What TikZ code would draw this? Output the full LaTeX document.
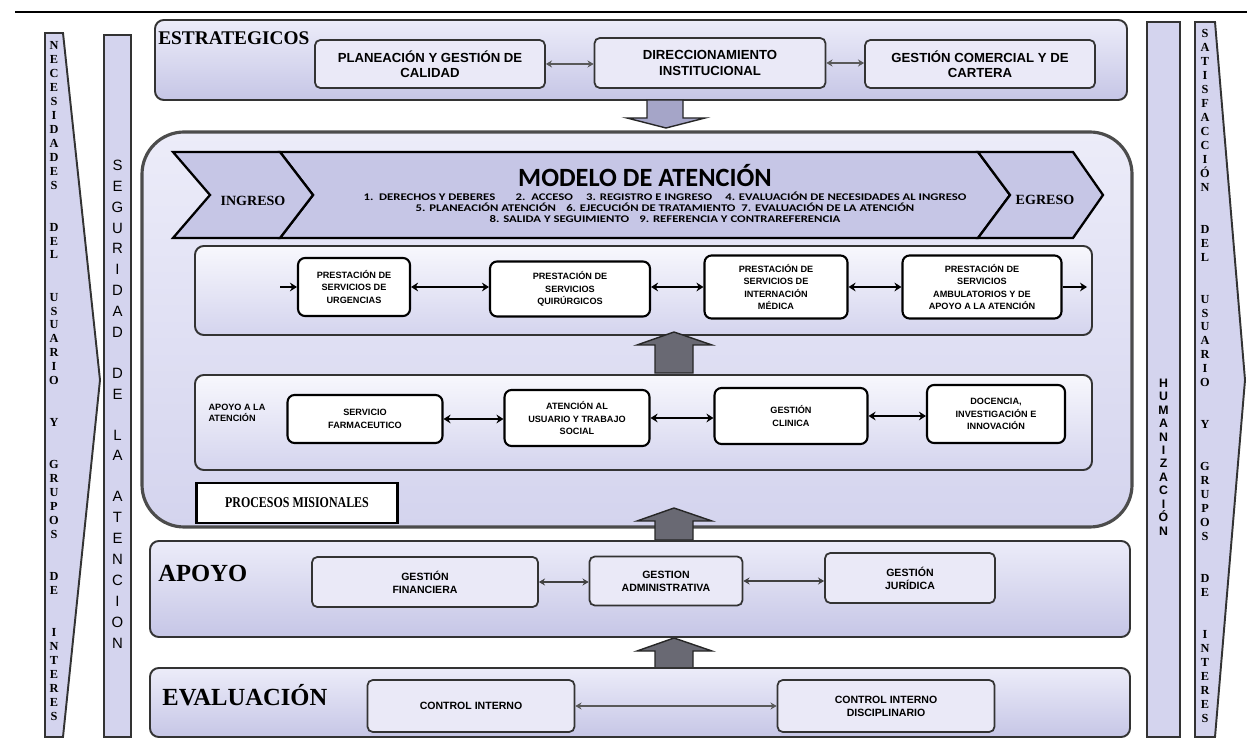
\documentclass[tikz,border=0pt]{standalone}
\usepackage{fontspec}
\setmainfont{Liberation Serif}
\setsansfont{Liberation Sans}
\newfontfamily\calfont{Carlito}
\newfontfamily\calwide[FakeStretch=1.25]{Carlito}
\newfontfamily\condserif[FakeStretch=0.8]{Liberation Serif}
\usetikzlibrary{arrows.meta,positioning}
\definecolor{lavband}{RGB}{212,212,238}
\definecolor{lavlight}{RGB}{236,236,249}
\definecolor{lavdeep}{RGB}{198,198,230}
\definecolor{lavbox}{RGB}{234,233,247}
\definecolor{arrowgray}{RGB}{105,105,115}
\definecolor{arrowlav}{RGB}{165,165,200}

\begin{document}
\begin{tikzpicture}[x=0.02cm,y=-0.02cm,
    band/.style={draw=black!80, line width=1.1pt, rounded corners=5pt,
        top color=lavlight, bottom color=lavdeep},
    sidebar/.style={draw=black!80, line width=1.1pt, fill=lavband},
    chevron/.style={draw=black, line width=1.3pt, fill=lavdeep},
    stratbox/.style={draw=black!80, line width=1pt, rounded corners=3pt, fill=lavbox,
        align=center, inner sep=1pt, font=\sffamily\bfseries\fontsize{7.5}{8.8}\selectfont},
    supbox/.style={stratbox, font=\sffamily\bfseries\fontsize{6}{7.5}\selectfont},
    procbox/.style={draw=black, line width=1.2pt, rounded corners=4pt, fill=white,
        align=center, inner sep=1pt, font=\sffamily\bfseries\fontsize{5.2}{7}\selectfont},
    bandlabel/.style={anchor=west, inner sep=0pt, font=\bfseries\fontsize{14}{14}\selectfont},
    letters/.style={align=center, inner sep=0pt, font=\bfseries\fontsize{7}{7.94}\selectfont},
    link/.style={{Stealth[length=4pt,width=5pt]}-{Stealth[length=4pt,width=5pt]}, line width=1.4pt},
    onelink/.style={-{Stealth[length=4pt,width=5pt]}, line width=1.4pt},
    thinlink/.style={{Stealth[length=3.5pt,width=4pt]}-{Stealth[length=3.5pt,width=4pt]}, line width=1pt, black!65},
    blockarrow/.style={draw=black!85, line width=0.8pt, fill=arrowgray}]

    \useasboundingbox (0,0) rectangle (1247,742);
    \draw[line width=1.4pt] (15,12) -- (1247,12);

    % barras laterales
    \filldraw[sidebar] (45,33) -- (63,33) -- (100,380) -- (63,737) -- (45,737) -- cycle;
    \node[letters] (necesidades) at (54,381)
        {N\\E\\C\\E\\S\\I\\D\\A\\D\\E\\S\\[16pt]D\\E\\L\\[16pt]U\\S\\U\\A\\R\\I\\O\\[16pt]Y\\[16pt]G\\R\\U\\P\\O\\S\\[16pt]D\\E\\[16pt]I\\N\\T\\E\\R\\E\\S};
    \filldraw[sidebar] (104,35) rectangle (131,737);
    \node[letters, font=\sffamily\fontsize{8.5}{11.9}\selectfont] (seguridad) at (117.5,404)
        {S\\E\\G\\U\\R\\I\\D\\A\\D\\[11.3pt]D\\E\\[11.3pt]L\\A\\[11.3pt]A\\T\\E\\N\\C\\I\\O\\N};
    \filldraw[sidebar] (1147,22) rectangle (1180,737);
    \node[letters, font=\sffamily\bfseries\fontsize{7}{7.65}\selectfont] (humanizacion) at (1163.5,457)
        {H\\U\\M\\A\\N\\I\\Z\\A\\C\\I\\Ó\\N};
    \filldraw[sidebar] (1195,22) -- (1215,22) -- (1245,380) -- (1215,737) -- (1195,737) -- cycle;
    \node[letters] (satisfaccion) at (1205,376)
        {S\\A\\T\\I\\S\\F\\A\\C\\C\\I\\Ó\\N\\[16pt]D\\E\\L\\[16pt]U\\S\\U\\A\\R\\I\\O\\[16pt]Y\\[16pt]G\\R\\U\\P\\O\\S\\[16pt]D\\E\\[16pt]I\\N\\T\\E\\R\\E\\S};

    % estrategicos
    \filldraw[band] (155,20) rectangle (1127,100);
    \node[anchor=west, inner sep=0pt, font=\bfseries\fontsize{11}{11}\selectfont] (estrategicos) at (158,38) {ESTRATEGICOS};
    \node[stratbox, minimum width=4.6cm, minimum height=0.96cm] (planeacion) at (430,64) {PLANEACIÓN Y GESTIÓN DE\\CALIDAD};
    \node[stratbox, minimum width=4.62cm, minimum height=1cm] (direccionamiento) at (710,63) {DIRECCIONAMIENTO\\INSTITUCIONAL};
    \node[stratbox, minimum width=4.6cm, minimum height=0.96cm] (comercial) at (980,64) {GESTIÓN COMERCIAL Y DE\\CARTERA};
    \draw[thinlink] (planeacion.east) -- (planeacion.east -| direccionamiento.west);
    \draw[thinlink] (direccionamiento.east) -- (direccionamiento.east -| comercial.west);
    \filldraw[blockarrow, fill=arrowlav] (647,100) -- (683,100) -- (683,118) -- (705,118) -- (666,128) -- (627,118) -- (647,118) -- cycle;

    % procesos misionales
    \filldraw[draw=black!70, line width=1.8pt, rounded corners=24pt, top color=lavlight, bottom color=lavband]
        (142,132) rectangle (1132,527);
    \filldraw[chevron] (280,152) -- (978,152) -- (1010,195) -- (978,238) -- (280,238) -- (313,195) -- cycle;
    \filldraw[chevron] (173,152) -- (280,152) -- (313,195) -- (280,238) -- (173,238) -- (210,195) -- cycle;
    \filldraw[chevron] (978,152) -- (1073,152) -- (1103,195) -- (1073,238) -- (978,238) -- (1010,195) -- cycle;
    \node[font=\bfseries\fontsize{8}{8}\selectfont] (ingreso) at (253,201) {INGRESO};
    \node[font=\bfseries\fontsize{8}{8}\selectfont] (egreso) at (1045,200) {EGRESO};
    \node[font=\calfont\bfseries\fontsize{15}{15}\selectfont, inner sep=0pt] (modelo) at (645,176) {MODELO DE ATENCIÓN};
    \node[font=\calwide\bfseries\fontsize{5.8}{6.3}\selectfont, align=center, inner sep=0pt] (pasos) at (665,207)
        {1.\ \ DERECHOS Y DEBERES\qquad 2.\ \ ACCESO\quad\ 3. REGISTRO E INGRESO\quad\ 4. EVALUACIÓN DE NECESIDADES AL INGRESO\\
         5. PLANEACIÓN ATENCIÓN\quad 6. EJECUCIÓN DE TRATAMIENTO\ \ 7. EVALUACIÓN DE LA ATENCIÓN\\
         8. SALIDA Y SEGUIMIENTO\quad 9. REFERENCIA Y CONTRAREFERENCIA};

    \filldraw[band, top color=lavlight!40!white, bottom color=lavband] (195,246) rectangle (1092,335);
    \node[procbox, minimum width=2.24cm, minimum height=1.16cm] (urgencias) at (354,287) {PRESTACIÓN DE\\SERVICIOS DE\\URGENCIAS};
    \node[procbox, minimum width=3.2cm, minimum height=1.1cm] (quirurgicos) at (570,289) {PRESTACIÓN DE\\SERVICIOS\\QUIRÚRGICOS};
    \node[procbox, minimum width=2.86cm, minimum height=1.26cm] (internacion) at (776,287) {PRESTACIÓN DE\\SERVICIOS DE\\INTERNACIÓN\\MÉDICA};
    \node[procbox, minimum width=3.18cm, minimum height=1.26cm] (ambulatorios) at (982,287) {PRESTACIÓN DE\\SERVICIOS\\AMBULATORIOS Y DE\\APOYO A LA ATENCIÓN};
    \coordinate (entrada) at (280,287);
    \coordinate (salida) at (1087,287);
    \draw[onelink] (entrada) -- (urgencias.west |- entrada);
    \draw[link] (urgencias.east) -- (urgencias.east -| quirurgicos.west);
    \draw[link] (internacion.west -| quirurgicos.east) -- (internacion.west);
    \draw[link] (internacion.east) -- (internacion.east -| ambulatorios.west);
    \draw[onelink] (ambulatorios.east |- salida) -- (salida);

    \filldraw[band, top color=lavlight!40!white, bottom color=lavband] (195,375) rectangle (1092,470);
    \node[align=left, inner sep=0pt, font=\sffamily\bfseries\fontsize{5.2}{6.5}\selectfont] (apoyoatencion) at (237,413) {APOYO A LA\\ATENCIÓN};
    \node[procbox, minimum width=3.1cm, minimum height=0.96cm] (farmaceutico) at (365,419) {SERVICIO\\FARMACEUTICO};
    \node[procbox, minimum width=2.9cm, minimum height=1.12cm] (usuario) at (577,418) {ATENCIÓN AL\\USUARIO Y TRABAJO\\SOCIAL};
    \node[procbox, minimum width=3.06cm, minimum height=1.12cm] (clinica) at (791,416) {GESTIÓN\\CLINICA};
    \node[procbox, minimum width=2.76cm, minimum height=1.16cm] (docencia) at (996,414) {DOCENCIA,\\INVESTIGACIÓN E\\INNOVACIÓN};
    \draw[link] (farmaceutico.east) -- (farmaceutico.east -| usuario.west);
    \draw[link] (usuario.east) -- (usuario.east -| clinica.west);
    \draw[link] (clinica.east) -- (clinica.east -| docencia.west);

    \node[draw=black, line width=1.6pt, fill=white, minimum width=4.02cm, minimum height=0.8cm,
        font=\condserif\bfseries\fontsize{8.5}{8.5}\selectfont] (misionales) at (297,503) {PROCESOS MISIONALES};

    \foreach \ty/\sb in {332/373, 508/540, 638/668}
        \filldraw[blockarrow] (674,\ty) -- (712,\ty+13) -- (693,\ty+13) -- (693,\sb) -- (655,\sb) -- (655,\ty+13) -- (637,\ty+13) -- cycle;

    % apoyo
    \filldraw[band] (150,541) rectangle (1130,637);
    \node[bandlabel] (apoyo) at (158,573) {APOYO};
    \node[supbox, minimum width=4.52cm, minimum height=1cm] (financiera) at (425,582) {GESTIÓN\\FINANCIERA};
    \node[supbox, minimum width=3.06cm, minimum height=0.98cm] (administrativa) at (666,581) {GESTION\\ADMINISTRATIVA};
    \node[supbox, minimum width=3.4cm, minimum height=1cm] (juridica) at (910,578) {GESTIÓN\\JURÍDICA};
    \draw[thinlink, black!75] (financiera.east) -- (financiera.east -| administrativa.west);
    \draw[thinlink, black!75] (administrativa.east) -- (administrativa.east -| juridica.west);

    % evaluacion
    \filldraw[band] (150,668) rectangle (1130,737);
    \node[bandlabel] (evaluacion) at (162,695) {EVALUACIÓN};
    \node[supbox, minimum width=4.14cm, minimum height=1.04cm] (controlinterno) at (471,706) {CONTROL INTERNO};
    \node[supbox, minimum width=4.34cm, minimum height=1.04cm] (disciplinario) at (886,706) {CONTROL INTERNO\\DISCIPLINARIO};
    \draw[thinlink] (controlinterno) -- (disciplinario);

\end{tikzpicture}
\end{document}
